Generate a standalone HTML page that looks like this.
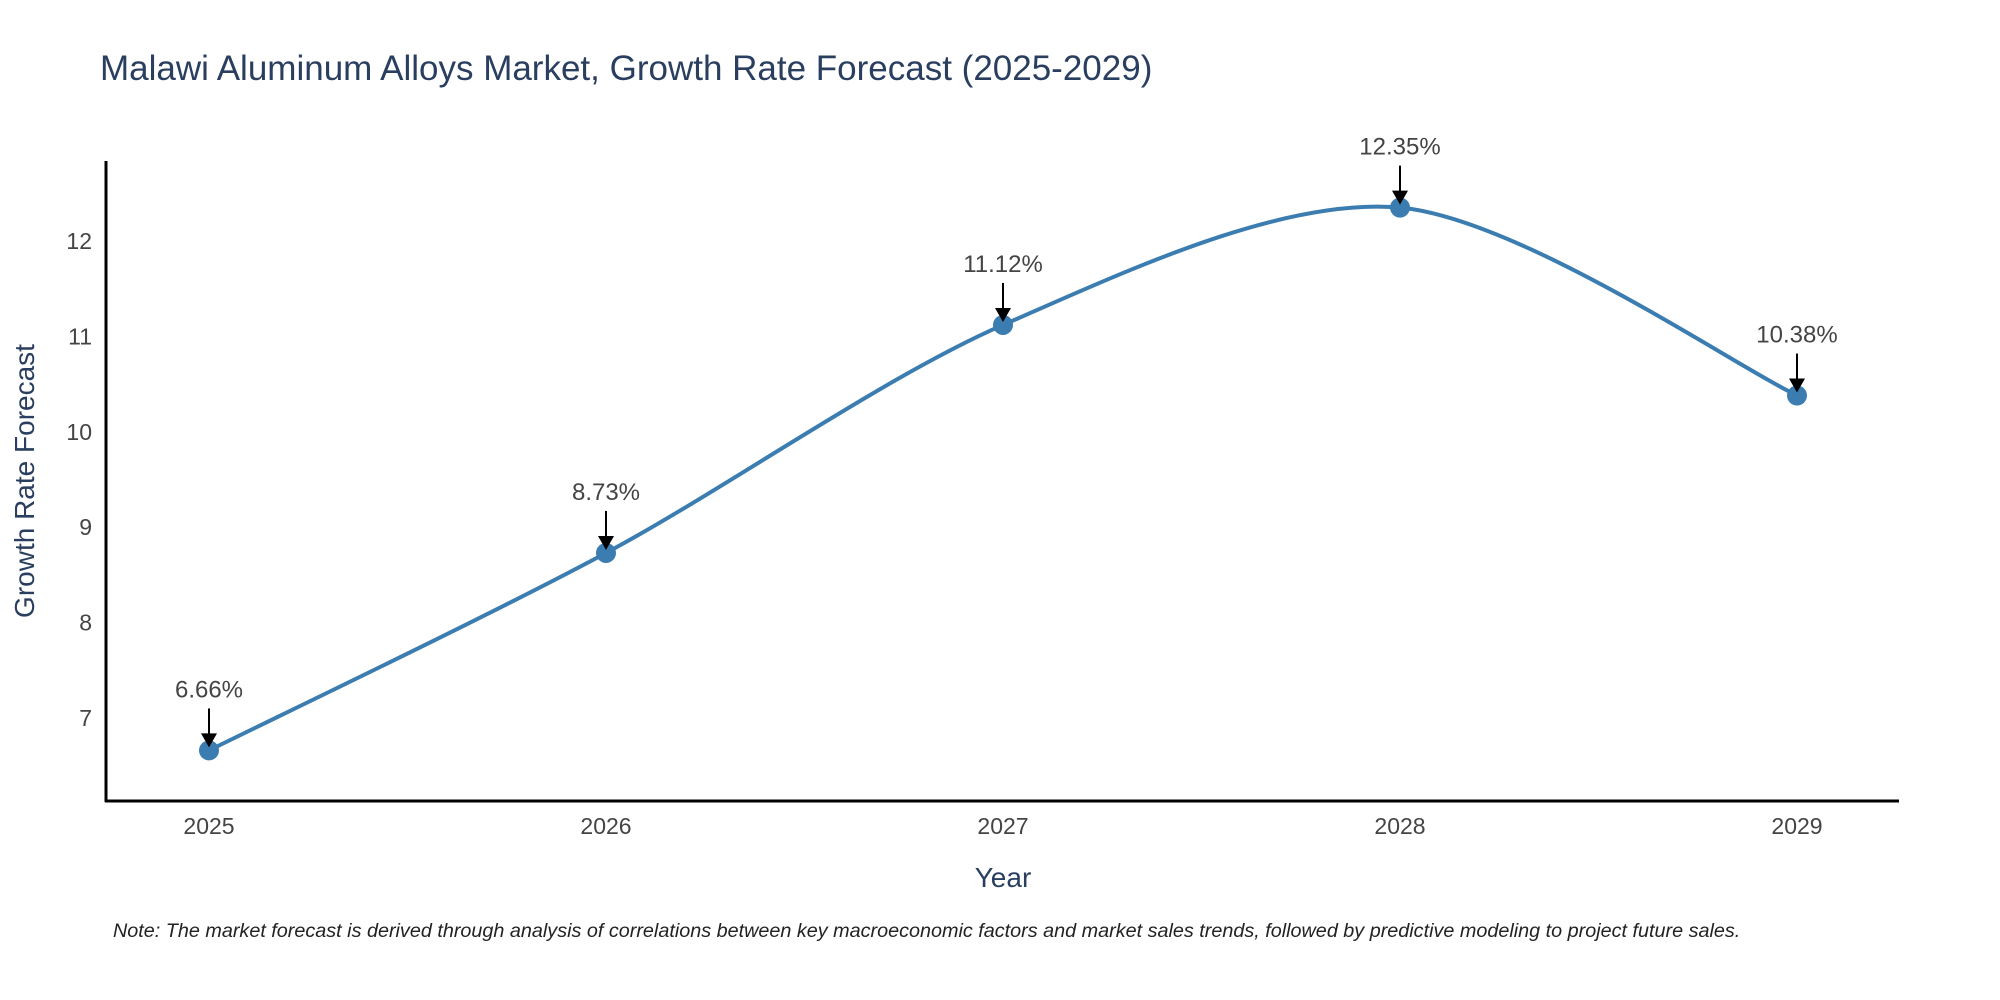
<!DOCTYPE html>
<html><head><meta charset="utf-8"><style>
html,body{margin:0;padding:0;background:#fff;}
svg{display:block;font-family:"Liberation Sans",sans-serif;}
</style></head><body>
<svg id="chart" width="2000" height="1000" viewBox="0 0 2000 1000">
<text x="100" y="80" font-size="35" fill="#2a3f5f">Malawi Aluminum Alloys Market, Growth Rate Forecast (2025-2029)</text>
<g id="yticks"></g>
<g id="xticks"></g>
<line x1="106" y1="161" x2="106" y2="802" stroke="#000" stroke-width="3"/>
<line x1="105" y1="801" x2="1899" y2="801" stroke="#000" stroke-width="3"/>
<g id="series"></g>
<g id="annots"></g>
<text x="1003" y="887" font-size="28" fill="#2a3f5f" text-anchor="middle">Year</text>
<text transform="translate(34,481) rotate(-90)" font-size="28" fill="#2a3f5f" text-anchor="middle">Growth Rate Forecast</text>
<text x="113" y="937" font-size="19.8" font-style="italic" fill="#222">Note: The market forecast is derived through analysis of correlations between key macroeconomic factors and market sales trends, followed by predictive modeling to project future sales.</text>
</svg>
<script>
const years = [2025, 2026, 2027, 2028, 2029];
const growth = [6.66, 8.73, 11.12, 12.35, 10.38];
const valueLabels = ["6.66%", "8.73%", "11.12%", "12.35%", "10.38%"];
const yTickValues = [7, 8, 9, 10, 11, 12];

const NS = "http://www.w3.org/2000/svg";
function xPos(yr){ return 209 + (yr - 2025) * (1797 - 209) / 4; }
function yPos(v){ return 718 - (v - 7) * 95.4; }
function mk(tag, attrs, parent){
  const e = document.createElementNS(NS, tag);
  for (const k in attrs) e.setAttribute(k, attrs[k]);
  parent.appendChild(e); return e;
}
const yt = document.getElementById('yticks');
yTickValues.forEach(v => {
  const t = mk('text', {x: 92, y: yPos(v) + 8, 'font-size': 23, fill: '#444', 'text-anchor': 'end'}, yt);
  
  
  t.textContent = v;
});
const xt = document.getElementById('xticks');
years.forEach(yr => {
  const t = mk('text', {x: xPos(yr), y: 834, 'font-size': 23, fill: '#444', 'text-anchor': 'middle'}, xt);
  
  
  t.textContent = yr;
});
const pts = years.map((yr, i) => [xPos(yr), yPos(growth[i])]);
let d = `M${pts[0][0]},${pts[0][1]}`;
for (let i = 0; i < pts.length - 1; i++) {
  const p0 = pts[i - 1] || pts[i], p1 = pts[i], p2 = pts[i + 1], p3 = pts[i + 2] || p2;
  const s = 0.15;
  const c1 = [p1[0] + (p2[0] - p0[0]) * s, p1[1] + (p2[1] - p0[1]) * s];
  const c2 = [p2[0] - (p3[0] - p1[0]) * s, p2[1] - (p3[1] - p1[1]) * s];
  d += ` C${c1[0]},${c1[1]} ${c2[0]},${c2[1]} ${p2[0]},${p2[1]}`;
}
const sg = document.getElementById('series');
const path = mk('path', {d: d, fill: 'none', stroke: '#3b7db0', 'stroke-width': 4}, sg);


const an = document.getElementById('annots');
pts.forEach((p, i) => {
  const c = mk('circle', {cx: p[0], cy: p[1], r: 10, fill: '#3b7db0'}, sg);
  
  
  const l = mk('line', {x1: p[0], y1: p[1] - 42, x2: p[0], y2: p[1] - 14, stroke: '#000', 'stroke-width': 2}, an);
  
  
  const h = mk('path', {d: `M${p[0]-8},${p[1]-17} L${p[0]+8},${p[1]-17} L${p[0]},${p[1]-3} Z`, fill: '#000'}, an);
  
  
  const t = mk('text', {x: p[0], y: p[1] - 53, 'font-size': 24, fill: '#444', 'text-anchor': 'middle'}, an);
  
  
  t.textContent = valueLabels[i];
});
</script>
</body></html>
